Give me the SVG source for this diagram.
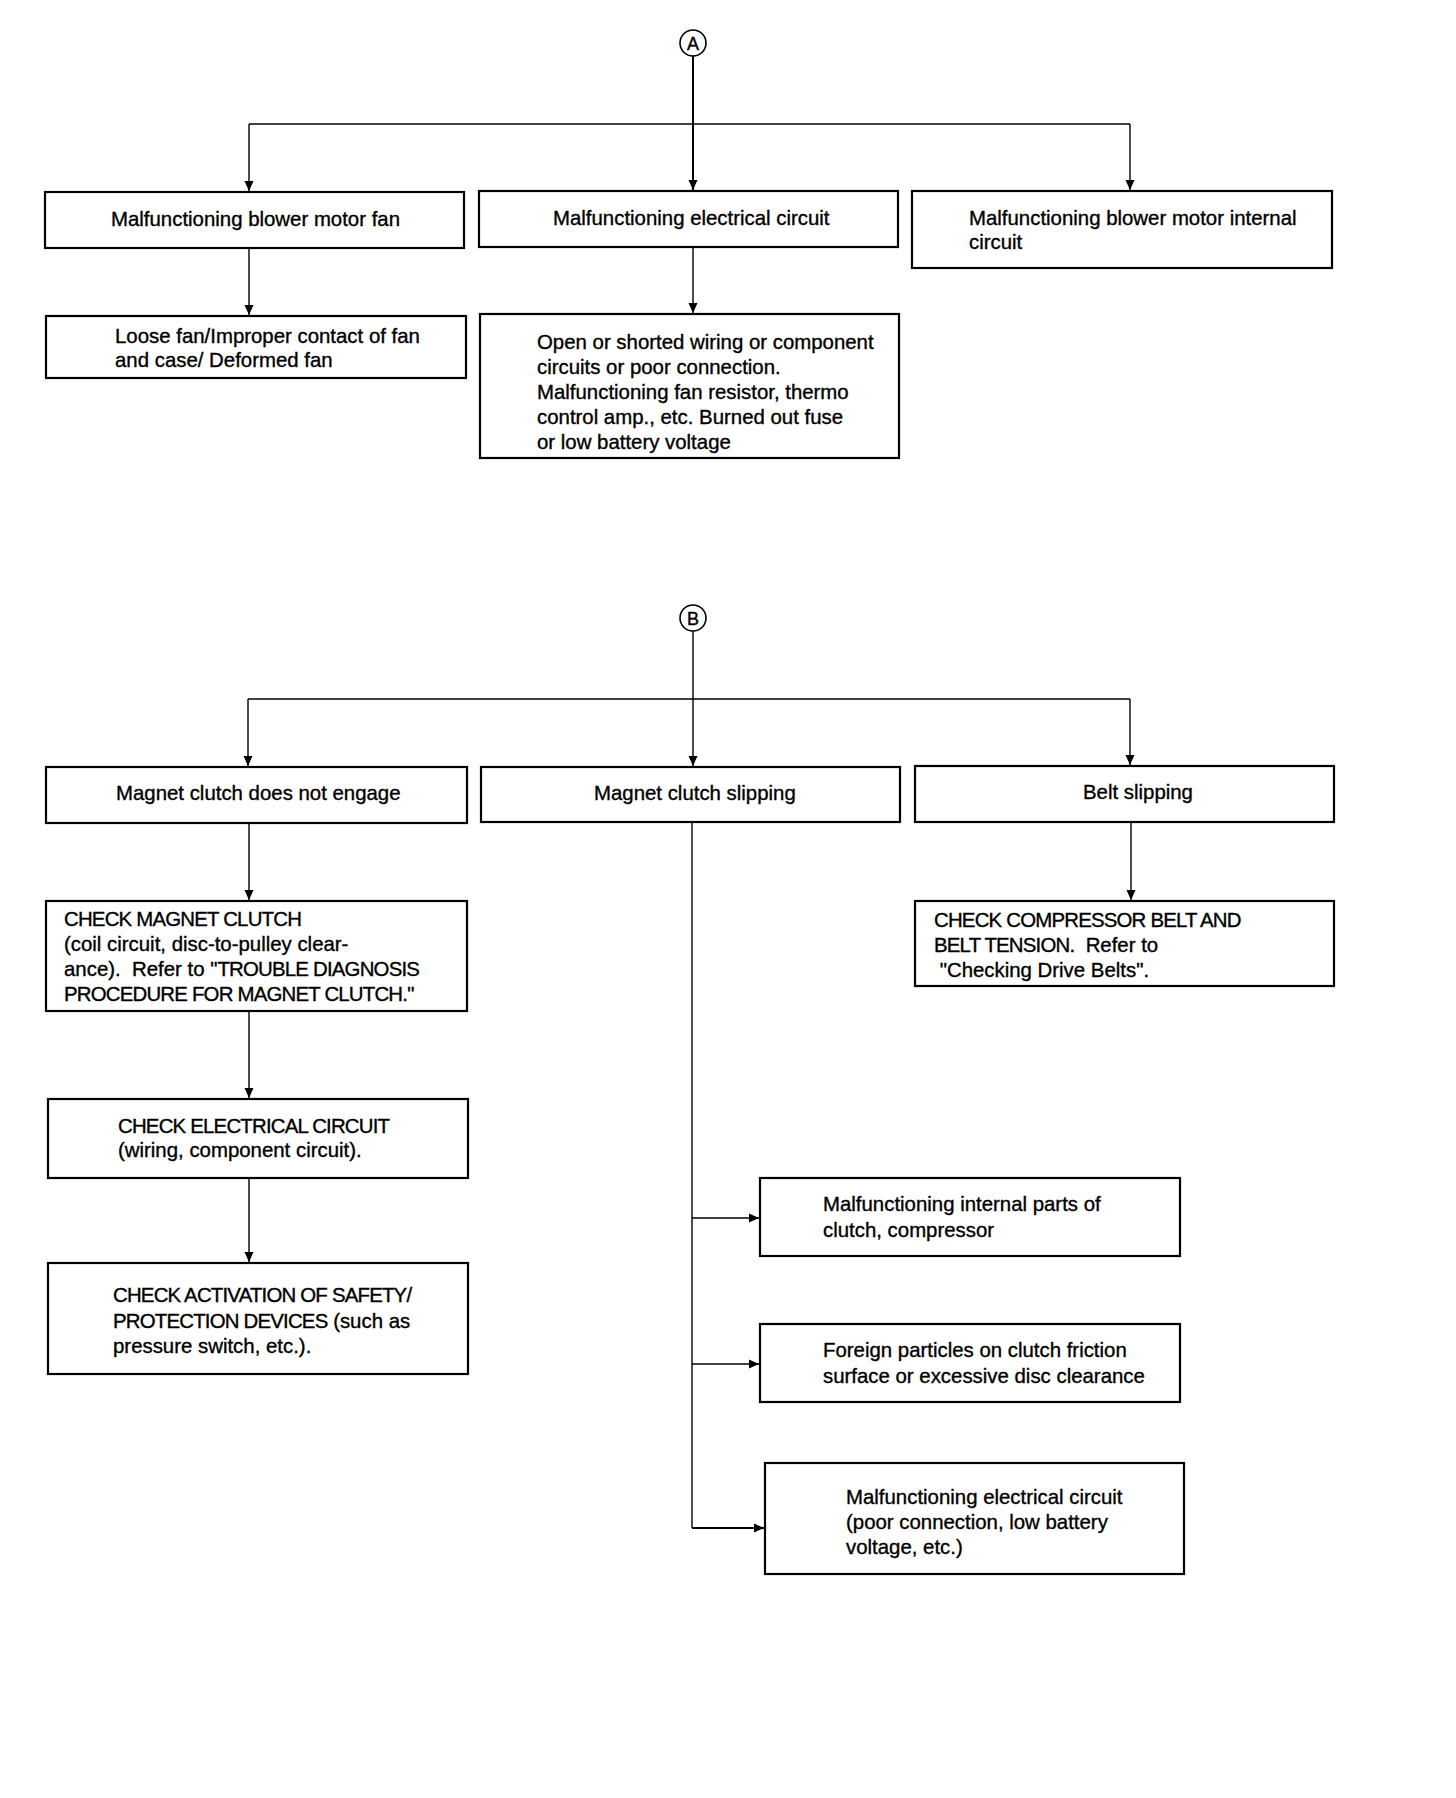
<svg xmlns="http://www.w3.org/2000/svg" width="1456" height="1798" viewBox="0 0 1456 1798">
<style>
.box{fill:#fff;stroke:#000;stroke-width:2.2}
.t{font-family:"Liberation Sans",Arial,sans-serif;font-size:20.4px;fill:#000;stroke:#000;stroke-width:0.35}
.k{letter-spacing:-0.8px}
.c{fill:none;stroke:#000;stroke-width:1.4}
.cb{fill:none;stroke:#000;stroke-width:2}
.circ{fill:#fff;stroke:#000;stroke-width:1.6}
.ct{font-family:"Liberation Sans",Arial,sans-serif;font-size:18px;text-anchor:middle;fill:#000;stroke:#000;stroke-width:0.4}
</style>
<defs>
<marker id="ah" markerUnits="userSpaceOnUse" markerWidth="12" markerHeight="12" viewBox="0 0 12 12" refX="10" refY="6" orient="auto">
<path d="M0,1.5 L10,6 L0,10.5 Z" fill="#000"/>
</marker>
</defs>
<rect width="1456" height="1798" fill="#fff"/>
<g id="connectors">
<path class="cb" d="M693,56 V190" marker-end="url(#ah)"/>
<path class="c" d="M249,124 H1130"/>
<path class="c" d="M249,124 V191" marker-end="url(#ah)"/>
<path class="c" d="M1130,124 V190" marker-end="url(#ah)"/>
<path class="c" d="M249,248 V315" marker-end="url(#ah)"/>
<path class="c" d="M693,247 V313" marker-end="url(#ah)"/>
<path class="c" d="M693,631 V766" marker-end="url(#ah)"/>
<path class="c" d="M248,699 H1130"/>
<path class="c" d="M248,699 V766" marker-end="url(#ah)"/>
<path class="c" d="M1130,699 V765" marker-end="url(#ah)"/>
<path class="c" d="M249,823 V900" marker-end="url(#ah)"/>
<path class="c" d="M249,1011 V1098" marker-end="url(#ah)"/>
<path class="c" d="M249,1178 V1262" marker-end="url(#ah)"/>
<path class="c" d="M1131,822 V900" marker-end="url(#ah)"/>
<path class="c" d="M692,822 V1528"/>
<path class="c" d="M692,1218 H759" marker-end="url(#ah)"/>
<path class="c" d="M692,1364 H759" marker-end="url(#ah)"/>
<path class="cb" d="M692,1528 H764" marker-end="url(#ah)"/>
</g>
<g id="nodeA">
<circle class="circ" cx="693" cy="43" r="13"/>
<text class="ct" x="693" y="49.5">A</text>
</g>
<g id="node1">
<rect class="box" x="45" y="192" width="419" height="56"/>
<text class="t" x="111" y="226">Malfunctioning blower motor fan</text>
</g>
<g id="node2">
<rect class="box" x="479" y="191" width="419" height="56"/>
<text class="t" x="553" y="225">Malfunctioning electrical circuit</text>
</g>
<g id="node3">
<rect class="box" x="912" y="191" width="420" height="77"/>
<text class="t" x="969" y="225">Malfunctioning blower motor internal</text>
<text class="t" x="969" y="249">circuit</text>
</g>
<g id="node4">
<rect class="box" x="46" y="316" width="420" height="62"/>
<text class="t" x="115" y="343">Loose fan/Improper contact of fan</text>
<text class="t" x="115" y="367">and case/ Deformed fan</text>
</g>
<g id="node5">
<rect class="box" x="480" y="314" width="419" height="144"/>
<text class="t" x="537" y="349">Open or shorted wiring or component</text>
<text class="t" x="537" y="374">circuits or poor connection.</text>
<text class="t" x="537" y="399">Malfunctioning fan resistor, thermo</text>
<text class="t" x="537" y="424">control amp., etc. Burned out fuse</text>
<text class="t" x="537" y="449">or low battery voltage</text>
</g>
<g id="nodeB">
<circle class="circ" cx="693" cy="618" r="13"/>
<text class="ct" x="693" y="624.5">B</text>
</g>
<g id="node6">
<rect class="box" x="46" y="767" width="421" height="56"/>
<text class="t" x="116" y="800">Magnet clutch does not engage</text>
</g>
<g id="node7">
<rect class="box" x="481" y="767" width="419" height="55"/>
<text class="t" x="594" y="800">Magnet clutch slipping</text>
</g>
<g id="node8">
<rect class="box" x="915" y="766" width="419" height="56"/>
<text class="t" x="1083" y="799">Belt slipping</text>
</g>
<g id="node9">
<rect class="box" x="46" y="901" width="421" height="110"/>
<text class="t k" x="64" y="926">CHECK MAGNET CLUTCH</text>
<text class="t" x="64" y="951">(coil circuit, disc-to-pulley clear-</text>
<text class="t" x="64" y="976" xml:space="preserve">ance).  Refer to "<tspan class="k">TROUBLE DIAGNOSIS</tspan></text>
<text class="t k" x="64" y="1001">PROCEDURE FOR MAGNET CLUTCH."</text>
</g>
<g id="node10">
<rect class="box" x="48" y="1099" width="420" height="79"/>
<text class="t k" x="118" y="1133">CHECK ELECTRICAL CIRCUIT</text>
<text class="t" x="118" y="1157">(wiring, component circuit).</text>
</g>
<g id="node11">
<rect class="box" x="48" y="1263" width="420" height="111"/>
<text class="t k" x="113" y="1302">CHECK ACTIVATION OF SAFETY/</text>
<text class="t" x="113" y="1328"><tspan class="k">PROTECTION DEVICES</tspan> (such as</text>
<text class="t" x="113" y="1353">pressure switch, etc.).</text>
</g>
<g id="node15">
<rect class="box" x="915" y="901" width="419" height="85"/>
<text class="t k" x="934" y="927">CHECK COMPRESSOR BELT AND</text>
<text class="t" x="934" y="952" xml:space="preserve"><tspan class="k">BELT TENSION.</tspan>  Refer to</text>
<text class="t" x="934" y="977" xml:space="preserve"> "Checking Drive Belts".</text>
</g>
<g id="node12">
<rect class="box" x="760" y="1178" width="420" height="78"/>
<text class="t" x="823" y="1211">Malfunctioning internal parts of</text>
<text class="t" x="823" y="1237">clutch, compressor</text>
</g>
<g id="node13">
<rect class="box" x="760" y="1324" width="420" height="78"/>
<text class="t" x="823" y="1357">Foreign particles on clutch friction</text>
<text class="t" x="823" y="1383">surface or excessive disc clearance</text>
</g>
<g id="node14">
<rect class="box" x="765" y="1463" width="419" height="111"/>
<text class="t" x="846" y="1504">Malfunctioning electrical circuit</text>
<text class="t" x="846" y="1529">(poor connection, low battery</text>
<text class="t" x="846" y="1554">voltage, etc.)</text>
</g>
</svg>
